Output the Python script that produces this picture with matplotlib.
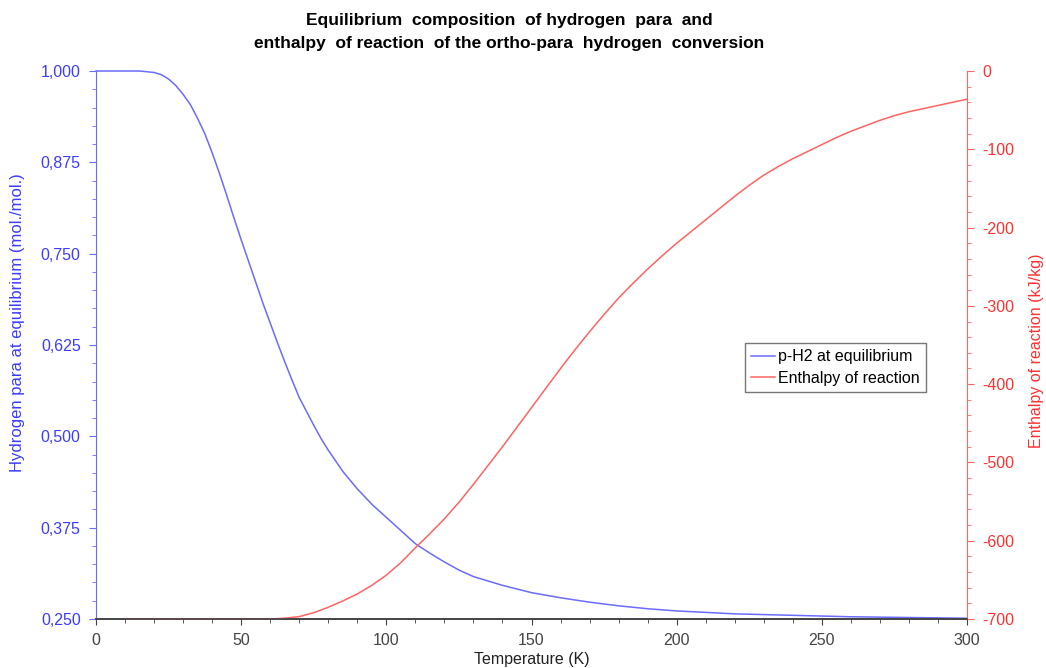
import matplotlib.pyplot as plt
from matplotlib.ticker import MultipleLocator, FuncFormatter

plt.rcParams['font.family'] = ['Liberation Sans', 'DejaVu Sans']
plt.rcParams['axes.unicode_minus'] = False

# p-H2 equilibrium fraction (mol/mol) vs temperature (K)
T_para = [0, 5, 10, 15, 20, 22.5, 25, 27.5, 30, 32.5, 35, 37.5, 40, 42.5, 45,
          47.5, 50, 52.5, 55, 57.5, 60, 62.5, 65, 67.5, 70, 72.5, 75, 77.5, 80,
          85, 90, 95, 100, 105, 110, 115, 120, 125, 130, 140, 150, 160, 170,
          180, 190, 200, 220, 240, 260, 280, 300]
x_para = [1.000, 1.000, 1.000, 1.000, 0.998, 0.995, 0.989, 0.980, 0.968, 0.954,
          0.935, 0.914, 0.888, 0.860, 0.830, 0.799, 0.769, 0.740, 0.711, 0.682,
          0.655, 0.628, 0.602, 0.577, 0.553, 0.534, 0.515, 0.497, 0.481,
          0.452, 0.428, 0.407, 0.389, 0.371, 0.353, 0.340, 0.328, 0.317, 0.308,
          0.296, 0.286, 0.279, 0.273, 0.268, 0.264, 0.261, 0.257, 0.255, 0.253,
          0.252, 0.251]

# enthalpy of reaction (kJ/kg) vs temperature (K)
T_h = [10, 20, 30, 40, 50, 60, 65, 70, 75, 80, 85, 90, 95, 100, 105, 110, 115,
       120, 125, 130, 135, 140, 145, 150, 155, 160, 165, 170, 175, 180, 185,
       190, 195, 200, 205, 210, 215, 220, 225, 230, 235, 240, 245, 250, 255,
       260, 265, 270, 275, 280, 285, 290, 295, 300]
dh = [-700, -700, -700, -700, -700, -700, -699, -697, -692, -685, -677, -668,
      -657, -644, -628, -609, -591, -572, -551, -528, -504, -480, -455, -430,
      -405, -380, -356, -333, -311, -290, -271, -253, -236, -220, -205, -190,
      -175, -160, -146, -133, -122, -112, -103, -94, -85, -77, -70, -63, -57,
      -52, -48, -44, -40, -36]

blue = '#6b6bff'
red = '#ff6464'
blue_txt = '#3c3cff'
red_txt = '#ff3030'
grey = '#444444'

fig = plt.figure(figsize=(10.46, 6.68), dpi=100)
ax = fig.add_axes([0.0918, 0.0734, 0.8327, 0.8203])
ax2 = ax.twinx()

l1, = ax.plot(T_para, x_para, color=blue, lw=1.1, clip_on=False, label='p-H2 at equilibrium')
l2, = ax2.plot(T_h, dh, color=red, lw=1.1, clip_on=False, label='Enthalpy of reaction')

ax.set_xlim(0, 300)
ax.set_ylim(0.25, 1.0)
ax2.set_ylim(-700, 0)

for a in (ax, ax2):
    a.spines['top'].set_visible(False)
    a.spines['bottom'].set_color(grey)
    a.spines['bottom'].set_linewidth(1.2)
ax.spines['right'].set_visible(False)
ax2.spines['left'].set_visible(False)
ax.spines['left'].set_color(blue)
ax2.spines['right'].set_color(red)

ax.xaxis.set_major_locator(MultipleLocator(50))
ax.xaxis.set_minor_locator(MultipleLocator(10))
ax.yaxis.set_major_locator(MultipleLocator(0.125))
ax.yaxis.set_minor_locator(MultipleLocator(0.025))
ax.yaxis.set_major_formatter(FuncFormatter(lambda v, p: f'{v:.3f}'.replace('.', ',')))
ax2.yaxis.set_major_locator(MultipleLocator(100))
ax2.yaxis.set_minor_locator(MultipleLocator(20))
ax2.yaxis.set_major_formatter(FuncFormatter(lambda v, p: f'{v:.0f}'))

ax.tick_params(axis='x', which='both', colors=grey, labelsize=11.5, pad=6)
ax.tick_params(axis='x', which='major', length=4)
ax.tick_params(axis='x', which='minor', length=3)
ax.tick_params(axis='y', which='both', colors=blue, labelcolor=blue_txt, labelsize=11.5, pad=6)
ax.tick_params(axis='y', which='major', length=5)
ax.tick_params(axis='y', which='minor', length=3)
ax2.tick_params(axis='y', which='both', colors=red, labelcolor=red_txt, labelsize=11.5, pad=6)
ax2.tick_params(axis='y', which='major', length=5)
ax2.tick_params(axis='y', which='minor', length=3)

ax.set_xlabel('Temperature (K)', fontsize=11.5, color='#222222', labelpad=3)
ax.set_ylabel('Hydrogen para at equilibrium (mol./mol.)', fontsize=12, color=blue_txt)
ax2.set_ylabel('Enthalpy of reaction (kJ/kg)', fontsize=11.5, color=red_txt)
ax.yaxis.set_label_coords(-0.0815, 0.54)
ax2.yaxis.set_label_coords(1.0715, 0.49)

fig.suptitle('Equilibrium  composition  of hydrogen  para  and\n'
             'enthalpy  of reaction  of the ortho-para  hydrogen  conversion',
             fontsize=12.5, fontweight='bold', x=0.487, y=0.981, va='top',
             linespacing=1.72)

leg = ax2.legend(handles=[l1, l2], loc='upper left', bbox_to_anchor=(0.745, 0.504),
                 fontsize=11.5, frameon=True, fancybox=False, handlelength=1.5,
                 handletextpad=0.15, borderpad=0.4, labelspacing=0.4,
                 borderaxespad=0)
leg.get_frame().set_edgecolor('#555555')
leg.get_frame().set_linewidth(1.0)

fig.savefig('out.png', dpi=100)
